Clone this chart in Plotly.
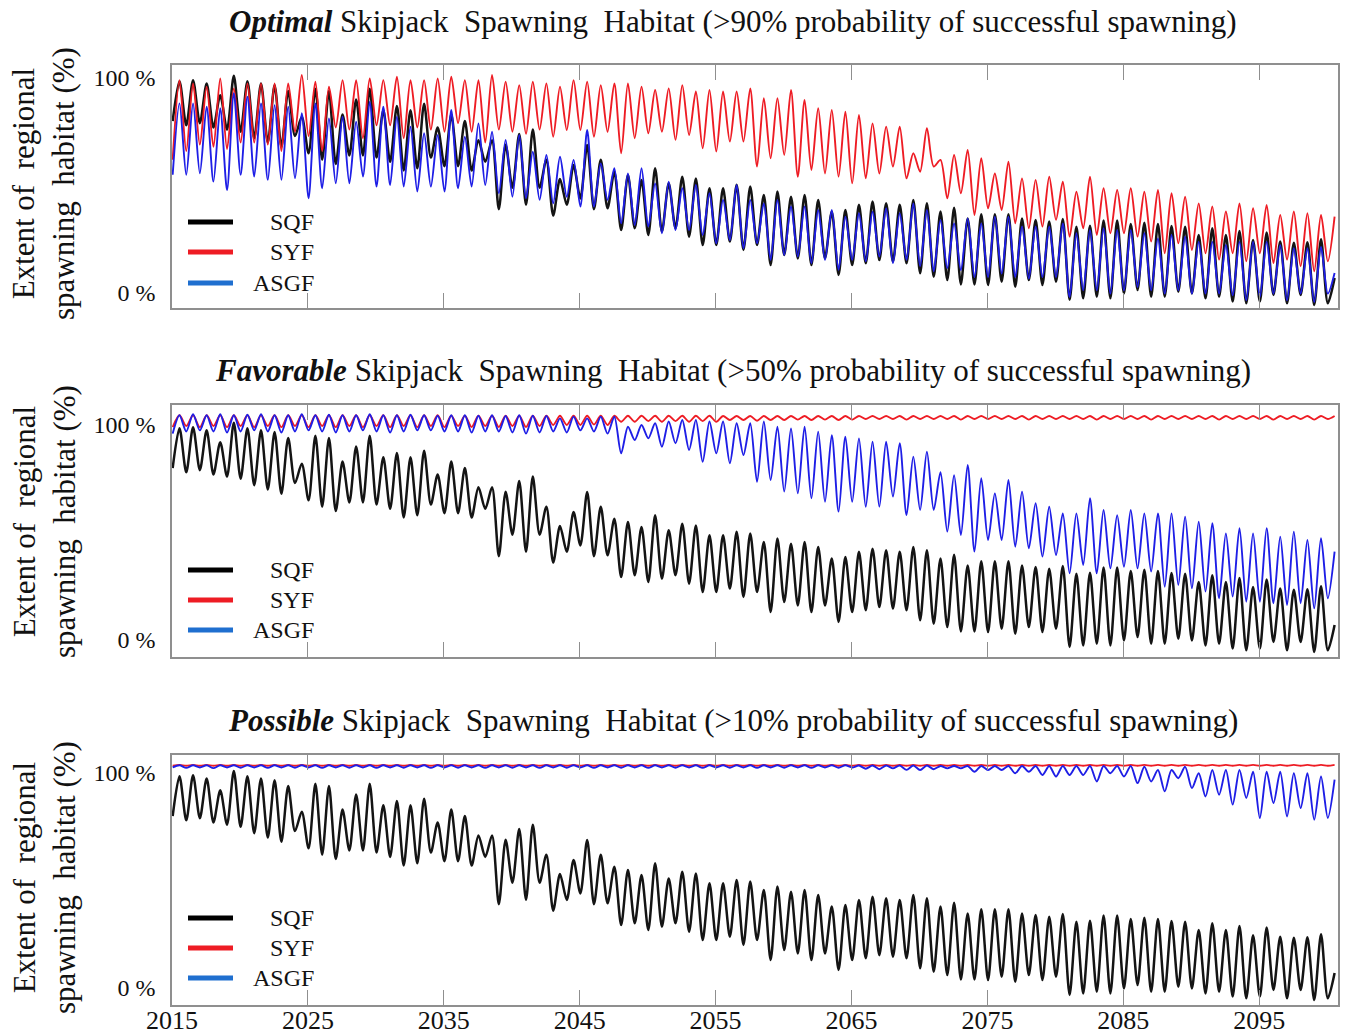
import plotly.graph_objects as go

# ---------------- data ----------------
years = list(range(2015, 2101))

# SQF (same curve in all three panels): yearly trough and peak, % of habitat
sqf_trough = [80, 78, 79, 77, 76, 75, 72, 70, 68, 73,
              65, 62, 60, 64, 64, 63, 61, 57, 58, 63,
              59, 59, 57, 61, 39, 49, 41, 49, 36, 41,
              44, 39, 39.4, 29.3, 30.1, 27, 28.5, 30.1, 26.2, 22.3,
              22.3, 23.9, 20, 22.3, 13, 17.7, 16.1, 13, 16.1, 8.4,
              13, 13.8, 15.3, 14.6, 13.8, 9.2, 7.6, 6, 4, 4,
              3.7, 5.2, 2.9, 6, 3.7, 5.2, -3.2, -2.5, -1.7, -2.5,
              -0.2, 1.4, -1.7, -1.7, 0.6, -0.2, -2.5, -1.7, -4, -4.8,
              -4, -0.9, -4.8, -0.9, -5.6, -4.8]
sqf_peak = [98.5, 99, 97.5, 92, 101, 98.5, 97.5, 96.7, 94, 82,
            95, 94, 83, 90, 95, 85, 87, 85, 88, 77,
            83, 80, 71, 71, 69, 74, 76, 62, 53, 59.5,
            68.8, 62, 56.4, 54.9, 52.6, 58, 51, 54.1, 53.3, 48.7,
            48.7, 50.3, 49.5, 45.6, 47.2, 44.8, 45.6, 43.3, 37.9, 38.6,
            41, 42.5, 41.8, 41, 43.3, 41.8, 37.9, 39.7, 34.7, 36.6,
            36.6, 36.6, 34.7, 34, 33.2, 34.4, 30.8, 31.3, 33.7, 33.7,
            32.1, 32.7, 32.1, 31.2, 30.8, 27, 30.1, 27, 28.8, 24.6,
            28.1, 23.9, 23.4, 23.6, 25, 7]

# Optimal panel
syf_opt_trough = [62, 66, 69, 68, 67, 70, 70, 69, 66, 75,
                  73, 66, 77, 76, 72, 78, 78, 72, 77, 76,
                  75, 79, 75, 70, 76, 75, 74, 76, 72.7, 75.8,
                  75.8, 72.7, 75, 65, 72, 74.3, 75, 71.2, 73.5, 67.3,
                  65.8, 70.4, 70.4, 58.8, 62.7, 64.2, 54.1, 57.2, 55.6, 54.1,
                  51, 53.3, 55.6, 58.8, 53.3, 56.4, 58.8, 44, 46.4, 36.3,
                  39.4, 38.6, 32.4, 30.1, 30.9, 34, 26.2, 30.1, 27, 27.8,
                  27.8, 26.2, 23.9, 18.5, 23.1, 20, 18.5, 15.5, 18.5, 14.7,
                  18.5, 13.9, 15.5, 12.4, 10.1, 14.7]
syf_opt_peak = [99, 97.5, 96, 99.8, 95.2, 97.5, 97.5, 97.5, 97.5, 101.4,
                98.3, 96, 99, 99, 99.8, 99, 100.6, 99, 99, 99.8,
                100.6, 99, 99, 101.4, 98.3, 96.7, 98.3, 97.5, 96, 99,
                98.3, 96.7, 97.5, 97.5, 96, 94.4, 95.2, 96.7, 93.7, 94.4,
                93.7, 93.7, 95.2, 90.6, 90.6, 94.4, 89.8, 85.9, 85.1, 84.3,
                82.8, 78.9, 77.4, 77.4, 65, 76.6, 61.9, 64.2, 66.5, 62.7,
                55.6, 61.1, 53.3, 52.6, 54.1, 51.8, 47.1, 54.1, 48.7, 47.9,
                48.7, 47.1, 47.9, 46.4, 44.8, 41.7, 40.2, 37.9, 41.7, 39.4,
                40.9, 36.3, 37.9, 37.1, 36.3, 35.5]
asgf_opt_trough = [55, 55, 55.7, 51.8, 47.9, 55, 54.2, 52.6, 52.6, 53.4,
                   44.1, 48.7, 51, 51, 54.2, 49.5, 50.2, 49.5, 47.2, 49.5,
                   47.2, 48.7, 49.5, 50.2, 46.4, 44.8, 44.1, 43.3, 41.7, 44.8,
                   40.2, 40.2, 43.3, 32.4, 31.6, 30.9, 27.8, 29.3, 29.3, 27,
                   23.1, 24.6, 20.8, 23.1, 15.4, 17.7, 17, 13.9, 15.4, 10.8,
                   15.4, 14.7, 17, 13.9, 15.4, 12.4, 10.1, 11.5, 10.7, 7.4,
                   7.4, 9, 7.4, 6.7, 7.4, 7.4, -1.9, 1.2, 1.2, -0.3,
                   1.2, 2.8, 1.2, -0.3, 1.2, -0.3, -0.3, -0.3, -1.1, -3.4,
                   -1.9, -0.3, -3.4, -0.3, -4.2, -0.3]
asgf_opt_peak = [88.2, 88.2, 86.7, 85.9, 92.9, 91.3, 88.2, 87.4, 86.7, 83.6,
                 88.2, 81.2, 82, 79.7, 89, 86.7, 82, 77.4, 74.3, 73.5,
                 85.1, 72.7, 78.9, 75, 71.2, 73.5, 65.7, 64.2, 63.4, 61.9,
                 75.8, 60.3, 58, 55.6, 58, 51, 51.8, 48.7, 50.2, 46.4,
                 43.3, 50.2, 43.3, 41.7, 43.3, 40.2, 40.2, 38.6, 38.6, 35.5,
                 37.1, 37.8, 39.4, 37.1, 41.7, 38.6, 34, 32.4, 34.7, 32.4,
                 35.5, 35.5, 30.9, 30.9, 30.9, 32.4, 27.8, 29.3, 30.1, 29.3,
                 29.3, 27.8, 25.4, 27, 26.2, 23.9, 23.9, 22.3, 23.9, 23.9,
                 23.9, 22.3, 20.8, 20.8, 21.5, 9.3]

# Favorable panel
syf_fav_trough = [99, 99.5, 99, 99.5, 99, 99.5, 99, 99.5, 99, 99.5,
                  99, 99.5, 99, 99.5, 99, 99.5, 99, 99.5, 99, 99.5,
                  99, 99.5, 99, 99.5, 99, 99.5, 99, 99.5, 100, 100,
                  100, 100.2, 100, 101.5, 101.5, 101.8, 101.5, 101.8, 101.5, 101.8,
                  101.5, 102.3, 102.3, 102, 102.3, 102.3, 102.5, 102.3, 102.5, 102.3,
                  102.5, 102.8, 102.8, 102.8, 102.5, 102.8, 102.8, 102.8, 102.5, 102.8,
                  102.8, 102.8, 102.8, 102.5, 102.8, 102.8, 102.8, 102.8, 102.5, 102.8,
                  102.8, 102.8, 102.5, 102.8, 102.8, 102.8, 102.8, 102.5, 102.8, 102.8,
                  102.8, 102.5, 102.8, 102.8, 102.5, 102.8]
syf_fav_peak = [104.5, 104.5, 104.5, 104.5, 104.5, 104.5, 104.5, 104.5, 104.5, 104.5,
                104.5, 104.5, 104.5, 104.5, 104.5, 104.5, 104.5, 104.5, 104.5, 104.5,
                104.3, 104.3, 104.3, 104.3, 104.3, 104.3, 104.3, 104.3, 104.3, 104.3,
                104.3, 104.3, 104.3, 104.3, 104.3, 104.3, 104.3, 104.3, 104.3, 104.3,
                104.2, 104.2, 104.2, 104.2, 104.2, 104.2, 104.2, 104.2, 104.2, 104.2,
                104.2, 104.2, 104.2, 104.2, 104.2, 104.2, 104.2, 104.2, 104.2, 104.2,
                104.2, 104.2, 104.2, 104.2, 104.2, 104.2, 104.2, 104.2, 104.2, 104.2,
                104.2, 104.2, 104.2, 104.2, 104.2, 104.2, 104.2, 104.2, 104.2, 104.2,
                104.2, 104.2, 104.2, 104.2, 104.2, 104.2]
asgf_fav_trough = [96, 97, 97.5, 97, 96.5, 97, 97.5, 97, 96.5, 97,
                   97.5, 97, 96.5, 97, 97.5, 97, 96.5, 97, 97.5, 97.5,
                   97, 97, 96.5, 97, 97, 96.5, 96, 96.5, 97, 96.5,
                   97.5, 97, 96, 86.8, 93, 93.8, 89.9, 91.5, 88.4, 82.9,
                   86.8, 82.2, 86, 73.6, 74.4, 69, 68.2, 65.9, 64.3, 59.7,
                   64.3, 62, 62, 66.7, 58.1, 60.5, 60.5, 50.4, 48.8, 41.1,
                   46.5, 46.5, 43.4, 42.6, 38.8, 39.5, 31, 34.9, 31, 33.3,
                   34.1, 33.3, 31.8, 24.8, 25.6, 24, 22.5, 19.4, 20.2, 17.8,
                   17.8, 17.1, 16.3, 17.1, 14.7, 19.4]
asgf_fav_peak = [104.5, 105, 104.5, 105, 104.5, 104.8, 105, 104.5, 104.5, 105,
                 104.5, 104.8, 104.5, 104.5, 105, 104.5, 104.5, 104.8, 104.5, 104.3,
                 104.5, 104.5, 104.3, 104.5, 104.2, 104.5, 104.3, 104.2, 103.1, 103.9,
                 103.1, 103.9, 103.9, 99.2, 100, 100.8, 101.6, 102.3, 102.3, 101.6,
                 101.6, 100.8, 100.8, 101.6, 99.2, 98.4, 99.2, 96.9, 95.3, 94.6,
                 93.8, 92.2, 92.2, 91.5, 85.3, 87.6, 78, 76.7, 81.4, 75.2,
                 68.2, 74.4, 69, 63.6, 62, 58.9, 58.9, 65.9, 60.5, 58.1,
                 60.5, 58.9, 58.9, 58.9, 57.4, 55, 54.3, 49.6, 52, 49.6,
                 52, 48.1, 50.4, 46.5, 47.3, 41.1]

# Possible panel
syf_pos_trough = [103.4, 103.4, 103.4, 103.4, 103.4, 103.4, 103.4, 103.4, 103.4, 103.4,
                  103.4, 103.4, 103.4, 103.4, 103.4, 103.4, 103.4, 103.4, 103.4, 103.4,
                  103.4, 103.4, 103.4, 103.4, 103.4, 103.4, 103.4, 103.4, 103.4, 103.4,
                  103.4, 103.4, 103.4, 103.4, 103.4, 103.4, 103.4, 103.4, 103.4, 103.4,
                  103.4, 103.4, 103.4, 103.4, 103.4, 103.4, 103.4, 103.4, 103.4, 103.4,
                  103.4, 103.4, 103.4, 103.4, 103.4, 103.4, 103.4, 103.4, 103.4, 103.4,
                  103.4, 103.4, 103.4, 103.4, 103.4, 103.4, 103.4, 103.4, 103.4, 103.4,
                  103.4, 103.4, 103.4, 103.4, 103.4, 103.4, 103.4, 103.4, 103.4, 103.4,
                  103.4, 103.4, 103.4, 103.4, 103.4, 103.4]
syf_pos_peak = [103.8, 103.8, 103.8, 103.8, 103.8, 103.8, 103.8, 103.8, 103.8, 103.8,
                103.8, 103.8, 103.8, 103.8, 103.8, 103.8, 103.8, 103.8, 103.8, 103.8,
                103.8, 103.8, 103.8, 103.8, 103.8, 103.8, 103.8, 103.8, 103.8, 103.8,
                103.8, 103.8, 103.8, 103.8, 103.8, 103.8, 103.8, 103.8, 103.8, 103.8,
                103.8, 103.8, 103.8, 103.8, 103.8, 103.8, 103.8, 103.8, 103.8, 103.8,
                103.8, 103.8, 103.8, 103.8, 103.8, 103.8, 103.8, 103.8, 103.8, 103.8,
                103.8, 103.8, 103.8, 103.8, 103.8, 103.8, 103.8, 103.8, 103.8, 103.8,
                103.8, 103.8, 103.8, 103.8, 103.8, 103.8, 103.8, 103.8, 103.8, 103.8,
                103.8, 103.8, 103.8, 103.8, 103.8, 103.8]
asgf_pos_trough = [102.6, 102.4, 102.6, 102.3, 102.6, 102.5, 102.6, 102.4, 102.6, 102.5,
                   102.6, 102.4, 102.6, 102.5, 102.6, 102.4, 102.6, 102.5, 102.6, 102.4,
                   102.6, 102.5, 102.6, 102.4, 102.6, 102.5, 102.6, 102.4, 102.6, 102.5,
                   102.6, 102.4, 102.6, 102.5, 102.6, 102.4, 102.6, 102.5, 102.6, 102.4,
                   102.6, 102.5, 102.6, 102.4, 102.6, 102.5, 102.6, 102.4, 102.6, 102.5,
                   102.6, 102.0, 101.8, 102.2, 101.5, 101.4, 101.8, 102.2, 102.2, 100.6,
                   101.4, 101.4, 99.9, 100.6, 99.1, 98.4, 99.1, 99.1, 96.1, 99.9,
                   98.4, 95.3, 96.1, 91.5, 97.6, 93, 89.1, 89.9, 85.3, 88.4,
                   79.1, 86, 79.8, 83.7, 78.3, 79.1]
asgf_pos_peak = [103.6, 103.6, 103.6, 103.6, 103.6, 103.6, 103.6, 103.6, 103.6, 103.6,
                 103.6, 103.6, 103.6, 103.6, 103.6, 103.6, 103.6, 103.6, 103.6, 103.6,
                 103.6, 103.6, 103.6, 103.6, 103.6, 103.6, 103.6, 103.6, 103.6, 103.6,
                 103.6, 103.6, 103.6, 103.6, 103.6, 103.6, 103.6, 103.6, 103.6, 103.6,
                 103.6, 103.6, 103.6, 103.6, 103.6, 103.6, 103.6, 103.6, 103.6, 103.6,
                 103.5, 103.5, 103.5, 103.5, 103.5, 103.5, 103.3, 103.3, 103.3, 103.3,
                 103.3, 103.3, 103.3, 103.3, 103.3, 103.3, 103.3, 103.3, 103.3, 103.3,
                 103.3, 102.9, 101.4, 101.4, 102.9, 99.9, 101.4, 101.4, 101.4, 100.6,
                 100.6, 100.6, 99.9, 99.9, 98.4, 96.9]

series_names = ["SQF", "SYF", "ASGF"]
panel_titles = [
    "<b><i>Optimal</i></b> Skipjack  Spawning  Habitat (&gt;90% probability of successful spawning)",
    "<b><i>Favorable</i></b> Skipjack  Spawning  Habitat (&gt;50% probability of successful spawning)",
    "<b><i>Possible</i></b> Skipjack  Spawning  Habitat (&gt;10% probability of successful spawning)",
]
x_ticks = [2015, 2025, 2035, 2045, 2055, 2065, 2075, 2085, 2095]
y_tick_vals = [0, 100]
y_tick_text = ["0 %", "100 %"]
y_title = "Extent of  regional<br>spawning  habitat (%)"

panels = [
    [(sqf_trough, sqf_peak), (syf_opt_trough, syf_opt_peak), (asgf_opt_trough, asgf_opt_peak)],
    [(sqf_trough, sqf_peak), (syf_fav_trough, syf_fav_peak), (asgf_fav_trough, asgf_fav_peak)],
    [(sqf_trough, sqf_peak), (syf_pos_trough, syf_pos_peak), (asgf_pos_trough, asgf_pos_peak)],
]

# ---------------- styling ----------------
W, H = 1348, 1036
SERIF = "Liberation Serif, Times New Roman, serif"
LINE_COLORS = ["#141414", "#ee1c24", "#1e1ee6"]
LINE_WIDTHS = [2.5, 1.9, 1.9]
LEGEND_COLORS = ["#000000", "#ee1c24", "#1f6fcf"]
FRAME = "#8f8f8f"
TROUGH_PHASE, PEAK_PHASE = 0.05, 0.55

def px(x):
    return x / W

def py(y):
    return 1 - y / H

# plot boxes in pixels: (top, bottom) and y range
boxes = [(65, 308, [-6.98, 106.05]), (405, 657, [-7.9, 109.3]), (755, 1005, [-7.9, 108.4])]
title_y = [22, 370, 720]
legend_y = [[222, 252, 283], [570, 600, 630], [918, 948, 978]]
ytitle_y = [184, 522, 878]
X_LEFT, X_RIGHT = 172, 1338


def seasonal(trough, peak):
    xs, ys = [], []
    for yr, t, p in zip(years, trough, peak):
        xs += [yr + TROUGH_PHASE, yr + PEAK_PHASE]
        ys += [t, p]
    return xs, ys


fig = go.Figure()
annotations = []
shapes = []
for i, panel in enumerate(panels):
    sfx = "" if i == 0 else str(i + 1)
    for j, (tr, pk) in enumerate(panel):
        xs, ys = seasonal(tr, pk)
        fig.add_trace(go.Scatter(x=xs, y=ys, mode="lines", name=series_names[j],
                                 line=dict(color=LINE_COLORS[j], width=LINE_WIDTHS[j],
                                           shape="spline", smoothing=0.8),
                                 xaxis="x" + sfx, yaxis="y" + sfx, showlegend=False))
    top, bot, yr = boxes[i]
    fig.layout["xaxis" + sfx] = dict(
        domain=[px(X_LEFT), px(X_RIGHT)], anchor="y" + sfx, range=[2015, 2100.8],
        tickvals=x_ticks, ticks="inside", ticklen=15, tickwidth=1.3, tickcolor=FRAME,
        showline=True, linecolor=FRAME, linewidth=1.5, mirror="ticks",
        showgrid=False, zeroline=False, showticklabels=(i == 2), automargin=False,
        ticklabelstandoff=-9,
        tickfont=dict(family=SERIF, size=26, color="#111"))
    fig.layout["yaxis" + sfx] = dict(
        domain=[py(bot), py(top)], anchor="x" + sfx, range=yr,
        tickvals=y_tick_vals, ticktext=y_tick_text, ticks="", ticklabelstandoff=10,
        showline=True, linecolor=FRAME, linewidth=1.5, mirror=True,
        showgrid=False, zeroline=False, automargin=False,
        tickfont=dict(family=SERIF, size=24, color="#111"))
    annotations.append(dict(text=panel_titles[i], x=px(733), y=py(title_y[i]), xref="paper", yref="paper",
                            showarrow=False, xanchor="center", yanchor="middle",
                            font=dict(family=SERIF, size=31, color="#111")))
    annotations.append(dict(text=y_title, x=px(44), y=py(ytitle_y[i]), xref="paper", yref="paper",
                            showarrow=False, textangle=-90, xanchor="center", yanchor="middle",
                            font=dict(family=SERIF, size=31, color="#111")))
    for j, name in enumerate(series_names):
        ly = legend_y[i][j]
        shapes.append(dict(type="line", xref="paper", yref="paper", x0=px(188), x1=px(233),
                           y0=py(ly), y1=py(ly), line=dict(color=LEGEND_COLORS[j], width=5)))
        annotations.append(dict(text=name, x=px(316), y=py(ly), xref="paper", yref="paper",
                                showarrow=False, xanchor="right", yanchor="middle",
                                font=dict(family=SERIF, size=24, color="#111")))

fig.update_layout(width=W, height=H, margin=dict(l=0, r=0, t=0, b=0, autoexpand=False),
                  paper_bgcolor="white", plot_bgcolor="white", showlegend=False,
                  annotations=annotations, shapes=shapes)

fig.write_html("out.html")
